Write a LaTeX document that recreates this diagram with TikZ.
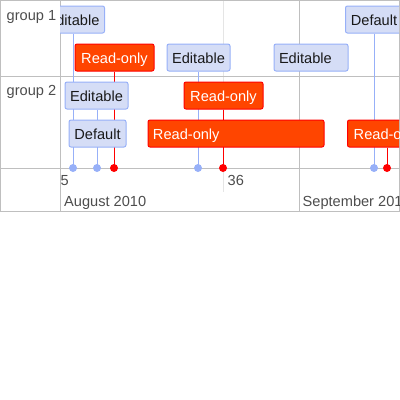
\documentclass[tikz,border=0pt]{standalone}
\usepackage{fontspec}
\setmainfont{Liberation Sans}
\usetikzlibrary{backgrounds}
\pgfdeclarelayer{stems}
\pgfsetlayers{background,stems,main}

\definecolor{gridgray}{HTML}{BFBFBF}
\definecolor{minorgray}{HTML}{E5E5E5}
\definecolor{labelgray}{HTML}{4D4D4D}
\definecolor{itemfill}{HTML}{D5DDF6}
\definecolor{itemline}{HTML}{97B0F8}
\definecolor{rofill}{HTML}{FF4500}
\definecolor{roline}{HTML}{FF0000}

\newcommand{\panelclip}{\clip (60,0) rectangle (399,212);}

\begin{document}
\begin{tikzpicture}[
  x=1pt, y=-1pt,
  every node/.style={font=\fontsize{14.6}{17}\selectfont},
  box/.style={rounded corners=2pt, line width=1pt, minimum height=27pt,
    inner xsep=5pt, inner ysep=0pt, text height=13pt, text depth=2pt},
  edit/.style={box, draw=itemline, fill=itemfill, text=black!90},
  ro/.style={box, draw=roline, fill=rofill, text=white},
  range/.style={text width=#1, align=left},
  bdot/.style={circle, fill=itemline, minimum size=8pt, inner sep=0pt},
  rdot/.style={circle, fill=roline, minimum size=8pt, inner sep=0pt},
  bstem/.style={draw=itemline, line width=1pt},
  rstem/.style={draw=roline, line width=1pt},
  grp/.style={anchor=base west, inner sep=0pt, text=labelgray},
  axis/.style={anchor=base west, inner sep=0pt, text=labelgray}]

  \useasboundingbox (0,0) rectangle (400,400);

  % ---- frame and grid -----------------------------------------------------
  \begin{pgfonlayer}{background}
    \draw[minorgray] (223,0) -- (223,192);
    \draw[gridgray] (299,0) -- (299,212);
    \draw[gridgray] (0,0.5) -- (400,0.5);
    \draw[gridgray] (0,76) -- (400,76);
    \draw[gridgray] (0,168) -- (400,168);
    \draw[gridgray] (0,211.5) -- (400,211.5);
    \draw[gridgray] (0.5,0) -- (0.5,212);
    \draw[gridgray] (60,0) -- (60,212);
    \draw[gridgray] (399.5,0) -- (399.5,212);
  \end{pgfonlayer}

  % ---- groups and axis ----------------------------------------------------
  \node[grp] (g1) at (6.5,20) {group 1};
  \node[grp] (g2) at (6.5,95) {group 2};

  \begin{scope}
    \panelclip
    \node[axis] (wk35) at (60.5,185) {5};
    \node[axis] (wk36) at (227.5,185) {36};
    \node[axis] (aug) at (64,206) {August 2010};
    \node[axis] (sep) at (302.5,206) {September 2010};

    % ---- items --------------------------------------------------------------
    \node[edit, minimum width=63pt] (e1) at (73,19.5) {Editable};
    \node[ro, minimum width=79pt] (r1) at (114.5,57.5) {Read-only};
    \node[edit, minimum width=63pt] (e2) at (198.5,57.5) {Editable};
    \node[edit, range=64pt] (e3) at (311,57.5) {Editable};
    \node[edit, minimum width=57pt] (f1) at (374,19.5) {Default};

    \node[edit, minimum width=63pt] (e4) at (96.5,95.5) {Editable};
    \node[edit, minimum width=57pt] (f2) at (97.5,133.5) {Default};
    \node[ro, minimum width=79pt] (r2) at (223.5,95.5) {Read-only};
    \node[ro, range=166pt] (r3) at (236,133.5) {Read-only};
    \node[ro, minimum width=79pt] (r4) at (387,133.5) {Read-only};

    % ---- dots on the axis ---------------------------------------------------
    \node[bdot] (d1) at (73,168) {};
    \node[bdot] (d2) at (97,168) {};
    \node[rdot] (d3) at (114,168) {};
    \node[bdot] (d4) at (198,168) {};
    \node[rdot] (d5) at (223,168) {};
    \node[bdot] (d6) at (374,168) {};
    \node[rdot] (d7) at (387,168) {};
  \end{scope}

  % ---- stems --------------------------------------------------------------
  \begin{pgfonlayer}{stems}
    \panelclip
    \draw[bstem] (e1.south -| d1) -- (d1.center);
    \draw[rstem] (r1.south -| d3) -- (d3.center);
    \draw[bstem] (e2.south -| d4) -- (d4.center);
    \draw[bstem] (f1.south -| d6) -- (d6.center);
    \draw[bstem] (e4.south -| d2) -- (d2.center);
    \draw[bstem] (f2.south -| d2) -- (d2.center);
    \draw[rstem] (r2.south -| d5) -- (d5.center);
    \draw[rstem] (r4.south -| d7) -- (d7.center);
  \end{pgfonlayer}
\end{tikzpicture}
\end{document}
